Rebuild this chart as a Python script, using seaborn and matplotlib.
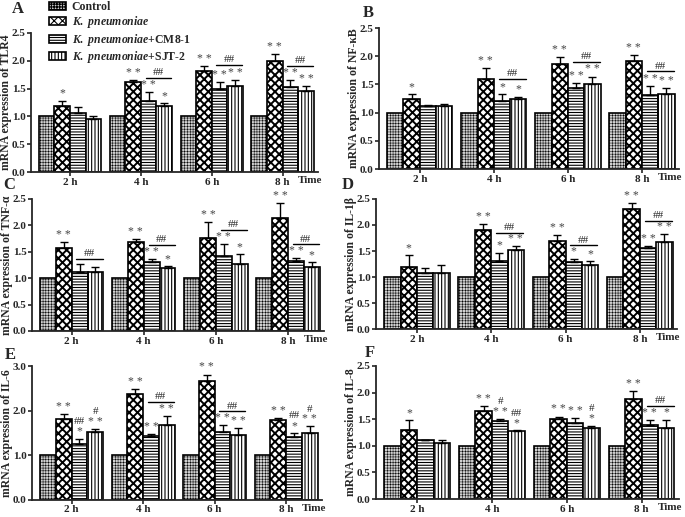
import numpy as np
import pandas as pd
import seaborn as sns
import matplotlib.pyplot as plt

times = ["2 h", "4 h", "6 h", "8 h"]
groups = ["Control", "K. pneumoniae", "K. pneumoniae+CM8-1", "K. pneumoniae+SJT-2"]
legend_labels = ["Control", r"$K.\ pneumoniae$", r"$K.\ pneumoniae$+CM8-1", r"$K.\ pneumoniae$+SJT-2"]

# means / sd per group (Control, KP, CM8-1, SJT-2), one list per time point
tlr4_mean = [[1, 1, 1, 1], [1.19, 1.61, 1.81, 2.00], [1.06, 1.28, 1.50, 1.53], [0.96, 1.19, 1.54, 1.45]]
tlr4_sd = [[0, 0, 0, 0], [0.09, 0.05, 0.10, 0.12], [0.11, 0.15, 0.12, 0.12], [0.04, 0.05, 0.12, 0.10]]
nfkb_mean = [[1, 1, 1, 1], [1.24, 1.60, 1.86, 1.92], [1.12, 1.20, 1.43, 1.32], [1.11, 1.24, 1.50, 1.33]]
nfkb_sd = [[0, 0, 0, 0], [0.09, 0.19, 0.13, 0.10], [0.01, 0.13, 0.09, 0.15], [0.04, 0.04, 0.14, 0.11]]
tnf_mean = [[1, 1, 1, 1], [1.58, 1.68, 1.77, 2.14], [1.12, 1.30, 1.42, 1.33], [1.12, 1.19, 1.26, 1.22]]
tnf_sd = [[0, 0, 0, 0], [0.10, 0.06, 0.30, 0.29], [0.14, 0.07, 0.23, 0.05], [0.10, 0.04, 0.19, 0.08]]
il1b_mean = [[1, 1, 1, 1], [1.20, 1.90, 1.69, 2.30], [1.07, 1.31, 1.28, 1.55], [1.08, 1.52, 1.23, 1.67]]
il1b_sd = [[0, 0, 0, 0], [0.22, 0.11, 0.11, 0.13], [0.11, 0.16, 0.07, 0.04], [0.16, 0.07, 0.08, 0.15]]
il6_mean = [[1, 1, 1, 1], [1.81, 2.38, 2.66, 1.79], [1.26, 1.44, 1.52, 1.40], [1.53, 1.67, 1.45, 1.50]]
il6_sd = [[0, 0, 0, 0], [0.11, 0.10, 0.15, 0.05], [0.11, 0.03, 0.15, 0.10], [0.06, 0.22, 0.17, 0.15]]
il8_mean = [[1, 1, 1, 1], [1.30, 1.65, 1.51, 1.88], [1.10, 1.47, 1.43, 1.40], [1.05, 1.28, 1.33, 1.33]]
il8_sd = [[0, 0, 0, 0], [0.18, 0.09, 0.04, 0.15], [0.01, 0.04, 0.10, 0.08], [0.06, 0.01, 0.05, 0.16]]

# significance marks: stars for KP, CM8, SJT; bracket "##"; single hashes over CM8 / SJT
tlr4_stars = [["*", "**", "**", "**"], ["", "**", "**", "**"], ["", "*", "**", "**"]]
nfkb_stars = [["*", "**", "**", "**"], ["", "*", "**", "**"], ["", "*", "**", "**"]]
tnf_stars = [["**", "**", "**", "**"], ["", "**", "**", "**"], ["", "*", "*", "*"]]
il1b_stars = [["*", "**", "**", "**"], ["", "*", "*", "**"], ["", "**", "*", "**"]]
il6_stars = [["**", "**", "**", "**"], ["*", "**", "**", "*"], ["**", "**", "**", "**"]]
il8_stars = [["*", "**", "**", "**"], ["", "**", "**", "**"], ["", "*", "*", "*"]]

tlr4_bracket = ["", "##", "##", "##"]
nfkb_bracket = ["", "##", "##", "##"]
tnf_bracket = ["##", "##", "##", "##"]
il1b_bracket = ["", "##", "##", "##"]
il6_bracket = ["", "##", "##", ""]
il8_bracket = ["", "", "", "##"]

no_hash = ["", "", "", ""]
il6_hash_cm8 = ["##", "", "", "##"]
il6_hash_sjt = ["#", "", "", "#"]
il8_hash_cm8 = ["", "#", "", ""]
il8_hash_sjt = ["", "##", "#", ""]

panels = [
    ("A", "TLR4", tlr4_mean, tlr4_sd, tlr4_stars, tlr4_bracket, no_hash, no_hash, 2.5, [0.0453, 0.6673, 0.419, 0.2689]),
    ("B", "NF-κB", nfkb_mean, nfkb_sd, nfkb_stars, nfkb_bracket, no_hash, no_hash, 2.5, [0.5533, 0.6731, 0.438, 0.2727]),
    ("C", "TNF-α", tnf_mean, tnf_sd, tnf_stars, tnf_bracket, no_hash, no_hash, 2.5, [0.0467, 0.3598, 0.4263, 0.2553]),
    ("D", "IL-1β", il1b_mean, il1b_sd, il1b_stars, il1b_bracket, no_hash, no_hash, 2.5, [0.5489, 0.3636, 0.4394, 0.2515]),
    ("E", "IL-6", il6_mean, il6_sd, il6_stars, il6_bracket, il6_hash_cm8, il6_hash_sjt, 3.0, [0.0470, 0.0330, 0.4230, 0.2590]),
    ("F", "IL-8", il8_mean, il8_sd, il8_stars, il8_bracket, il8_hash_cm8, il8_hash_sjt, 2.5, [0.5489, 0.0348, 0.4423, 0.2573]),
]
letter_pos = [(0.026, 0.982), (0.537, 0.975), (0.013, 0.642), (0.507, 0.642), (0.015, 0.313), (0.540, 0.317)]

sns.set_style("ticks")
plt.rcParams["font.family"] = ["Liberation Serif", "DejaVu Serif"]
plt.rcParams["font.weight"] = "bold"
plt.rcParams["mathtext.fontset"] = "custom"
plt.rcParams["mathtext.it"] = "Liberation Serif:italic:bold"
plt.rcParams["mathtext.rm"] = "Liberation Serif:bold"
plt.rcParams["hatch.linewidth"] = 0.8

hatches = ["++++++", "xxxx", "------", "|||||"]
hatch_lw = [0.35, 1.4, 0.8, 0.8]
faces = ["#d0d0d0", "white", "white", "white"]

fig = plt.figure(figsize=(6.85, 5.17), dpi=100)

for k, (letter, gene, means, sds, stars, bracket, hash_cm8, hash_sjt, ymax, pos) in enumerate(panels):
    ax = fig.add_axes(pos)
    rows = []
    for g, grp in enumerate(groups):
        for t, tm in enumerate(times):
            rows.append({"time": tm, "group": grp, "value": means[g][t]})
    df = pd.DataFrame(rows)
    sns.barplot(data=df, x="time", y="value", hue="group", order=times, hue_order=groups,
                errorbar=None, width=0.88, gap=0, legend=False, ax=ax)

    centers = []
    lefts = []
    for g, cont in enumerate(ax.containers):
        for p in cont:
            p.set_facecolor(faces[g])
            p.set_edgecolor("black")
            p.set_hatch(hatches[g])
            if hasattr(p, "set_hatch_linewidth"):
                p.set_hatch_linewidth(hatch_lw[g])
            p.set_linewidth(1.2)
        centers.append([p.get_x() + p.get_width() / 2 for p in cont])
        lefts.append([p.get_x() for p in cont])
    w = ax.containers[0][0].get_width()

    tops = []
    for g in range(1, 4):
        ax.errorbar(centers[g], means[g], yerr=[np.zeros(4), sds[g]], fmt="none",
                    ecolor="black", elinewidth=1.0, capsize=3, capthick=1.0, zorder=5)
        tops.append([m + s for m, s in zip(means[g], sds[g])])

    pad = 0.008 * ymax
    star_h = 0.06 * ymax
    levels = []
    for g in range(3):
        lv = []
        for t in range(4):
            s = stars[g][t]
            y = tops[g][t]
            if s:
                ax.text(centers[g + 1][t], y + pad, s.replace("**", "* *"), ha="center", va="bottom",
                        fontsize=8.5, fontweight="normal", color="#444444")
                y = y + star_h
            lv.append(y)
        levels.append(lv)

    for t in range(4):
        if hash_cm8[t]:
            ax.text(centers[2][t], levels[1][t] + 0.035 * ymax, hash_cm8[t], ha="center", va="bottom",
                    fontsize=8, fontweight="normal")
        if hash_sjt[t]:
            ax.text(centers[3][t], levels[2][t] + 0.035 * ymax, hash_sjt[t], ha="center", va="bottom",
                    fontsize=8, fontweight="normal")
        if bracket[t]:
            yl = max(levels[1][t], levels[2][t]) + 0.045 * ymax
            x0 = lefts[2][t] + 0.3 * w
            x1 = lefts[3][t] + 0.95 * w
            ax.plot([x0, x1], [yl, yl], color="black", lw=1.0)
            ax.text((x0 + x1) / 2, yl + 0.005 * ymax, bracket[t], ha="center", va="bottom",
                    fontsize=8, fontweight="normal")

    ax.set_xlim(-0.55, 3.5)
    ax.set_ylim(0, ymax)
    if ymax == 3.0:
        ax.set_yticks([0, 1, 2, 3])
    else:
        ax.set_yticks(np.arange(0, 2.51, 0.5))
    ax.set_yticklabels([f"{v:.1f}" for v in ax.get_yticks()])
    ax.set_xlabel("")
    ax.set_ylabel(f"mRNA expression of {gene}", fontsize=8.5, fontweight="bold", labelpad=0)
    ax.tick_params(axis="both", direction="out", length=3, width=1.2, labelsize=8, pad=1)
    for lab in ax.get_xticklabels() + ax.get_yticklabels():
        lab.set_fontweight("bold")
    sns.despine(ax=ax)
    for sp in ["left", "bottom"]:
        ax.spines[sp].set_linewidth(1.3)
    ax.text(3.22, -0.03, "Time", transform=ax.get_xaxis_transform(), ha="left", va="top",
            fontsize=8, fontweight="bold")
    fig.text(letter_pos[k][0], letter_pos[k][1], letter, ha="center", va="center",
             fontsize=12, fontweight="bold")

    if k == 0:
        ax.legend(handles=[c[0] for c in ax.containers], labels=legend_labels,
                  loc="upper left", bbox_to_anchor=(0.072, 0.998), bbox_transform=fig.transFigure,
                  frameon=False, fontsize=8.5, handlelength=1.4, handleheight=0.7,
                  handletextpad=0.5, labelspacing=0.12, borderpad=0, borderaxespad=0)

fig.savefig("out.png", dpi=100)
